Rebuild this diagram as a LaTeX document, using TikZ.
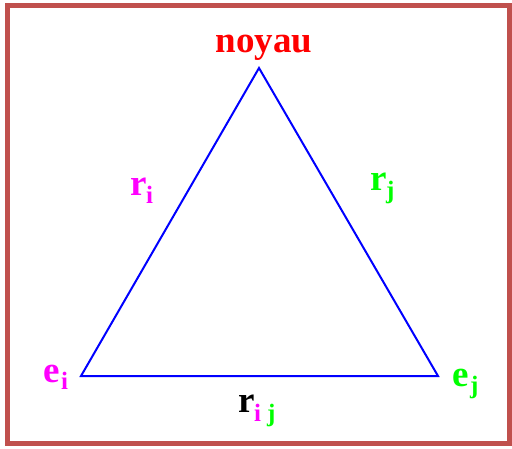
\documentclass[tikz,border=0pt]{standalone}
\usepackage{fontspec}
\setmainfont{Liberation Serif}
\definecolor{frame}{HTML}{C0504D}
\definecolor{mag}{HTML}{FF00FF}
\definecolor{grn}{HTML}{00FF00}
\definecolor{rd}{HTML}{FF0000}
\definecolor{bl}{HTML}{0000FF}
\tikzset{
  lbl/.style={font=\fontsize{37}{40}\selectfont\bfseries, inner sep=0pt, anchor=base west},
  sub/.style={font=\fontsize{25}{27}\selectfont\bfseries, inner sep=0pt, anchor=base west},
  edge/.style={draw=bl, line width=2pt, line join=miter}
}
\begin{document}
\begin{tikzpicture}[x=1pt,y=-1pt]
\useasboundingbox (0,0) rectangle (512,448);
\fill[white] (0,0) rectangle (512,448);
\draw[frame, line width=5pt] (7.5,5.5) rectangle (509.5,443);
\coordinate (top) at (259,68);
\coordinate (left) at (81,376);
\coordinate (right) at (438,376);
\draw[edge] (top) -- (left) -- (right) -- cycle;
\node[lbl, rd, anchor=base] (noyau) at (264,52) {noyau};
\node[lbl, mag] (ri) at (130,195) {r};
\node[sub, mag] (rii) at (146,203) {i};
\node[lbl, grn] (rj) at (370,190) {r};
\node[sub, grn] (rjj) at (386,198) {j};
\node[lbl, mag] (ei) at (43,382) {e};
\node[sub, mag] (eii) at (61,389) {i};
\node[lbl, grn] (ej) at (452,386) {e};
\node[sub, grn] (ejj) at (470,393) {j};
\node[lbl, black] (rij) at (238,412) {r};
\node[sub, mag] (riji) at (254,421) {i};
\node[sub, grn] (rijj) at (267,421) {j};
\end{tikzpicture}
\end{document}
